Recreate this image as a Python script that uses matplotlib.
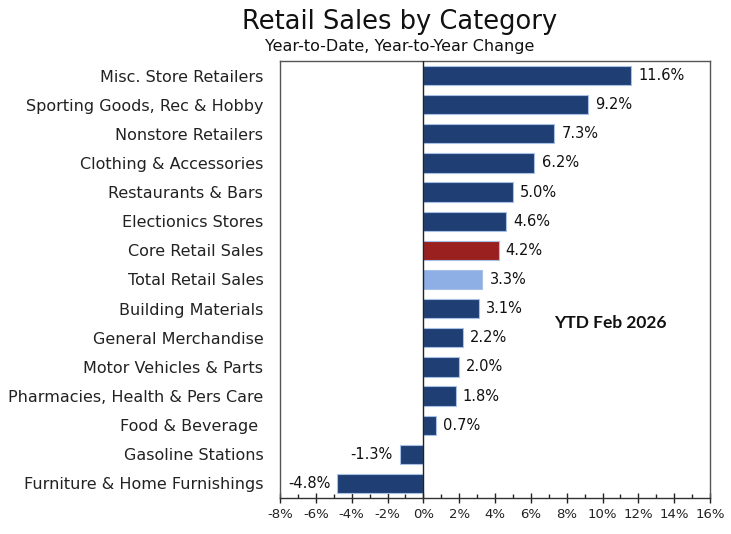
import matplotlib
matplotlib.use("Agg")
import matplotlib.pyplot as plt
from matplotlib.ticker import MultipleLocator, FuncFormatter

categories = ["Misc. Store Retailers", "Sporting Goods, Rec & Hobby", "Nonstore Retailers",
              "Clothing & Accessories", "Restaurants & Bars", "Electionics Stores",
              "Core Retail Sales", "Total Retail Sales", "Building Materials",
              "General Merchandise", "Motor Vehicles & Parts", "Pharmacies, Health & Pers Care",
              "Food & Beverage ", "Gasoline Stations", "Furniture & Home Furnishings"]
values = [11.6, 9.2, 7.3, 6.2, 5.0, 4.6, 4.2, 3.3, 3.1, 2.2, 2.0, 1.8, 0.7, -1.3, -4.8]
x_ticks = [-8, -6, -4, -2, 0, 2, 4, 6, 8, 10, 12, 14, 16]

navy = "#1F3F74"
colors = [navy] * len(values)
colors[categories.index("Core Retail Sales")] = "#9A1F1F"
colors[categories.index("Total Retail Sales")] = "#8DAFE5"

plt.rcParams['font.family'] = ['DejaVu Sans']
fig = plt.figure(figsize=(7.31, 5.34), dpi=100)
W, H = 731, 534
ax = fig.add_axes([280 / W, 1 - 498 / H, 430 / W, 437 / H])

y = list(range(len(values)))
ax.barh(y, values, height=0.66, color=colors, edgecolor="#A9C0E6", linewidth=0.8, zorder=2)
ax.axvline(0, color="#222222", linewidth=1.0, zorder=3)

for yi, v in zip(y, values):
    if v >= 0:
        ax.text(v + 0.4, yi, f"{v:.1f}%", va="center", ha="left", fontsize=10.5, color="#111111")
    else:
        ax.text(v - 0.4, yi, f"{v:.1f}%", va="center", ha="right", fontsize=10.5, color="#111111")

ax.set_xlim(-8, 16)
ax.set_ylim(len(values) - 0.5, -0.5)
ax.set_yticks(y)
ax.set_yticklabels(categories, fontsize=11.5, color="#222222")
ax.tick_params(axis='y', length=0, pad=12)
ax.set_xticks(x_ticks)
ax.xaxis.set_major_formatter(FuncFormatter(lambda v, p: f"{v:.0f}%"))
ax.xaxis.set_minor_locator(MultipleLocator(1))
ax.tick_params(axis='x', which='major', direction='inout', length=7, width=1, labelsize=9.5,
               colors="#222222", pad=4)
ax.tick_params(axis='x', which='minor', direction='in', length=3, width=1, colors="#222222")
for s in ax.spines.values():
    s.set_color("#555555")
    s.set_linewidth(1.0)
ax.spines['bottom'].set_color("#333333")

ax.text(610, H - 323, "YTD Feb 2026", transform=None, fontsize=12.5, fontweight="bold",
        family=["Lato", "DejaVu Sans"], ha="center", va="center", color="#111111")

fig.text(400 / W, 1 - 22 / H, "Retail Sales by Category", ha="center", va="center",
         fontsize=18.5, color="#111111")
fig.text(400 / W, 1 - 47 / H, "Year-to-Date, Year-to-Year Change", ha="center", va="center",
         fontsize=11.5, color="#111111")

fig.savefig("out.png", dpi=100)
